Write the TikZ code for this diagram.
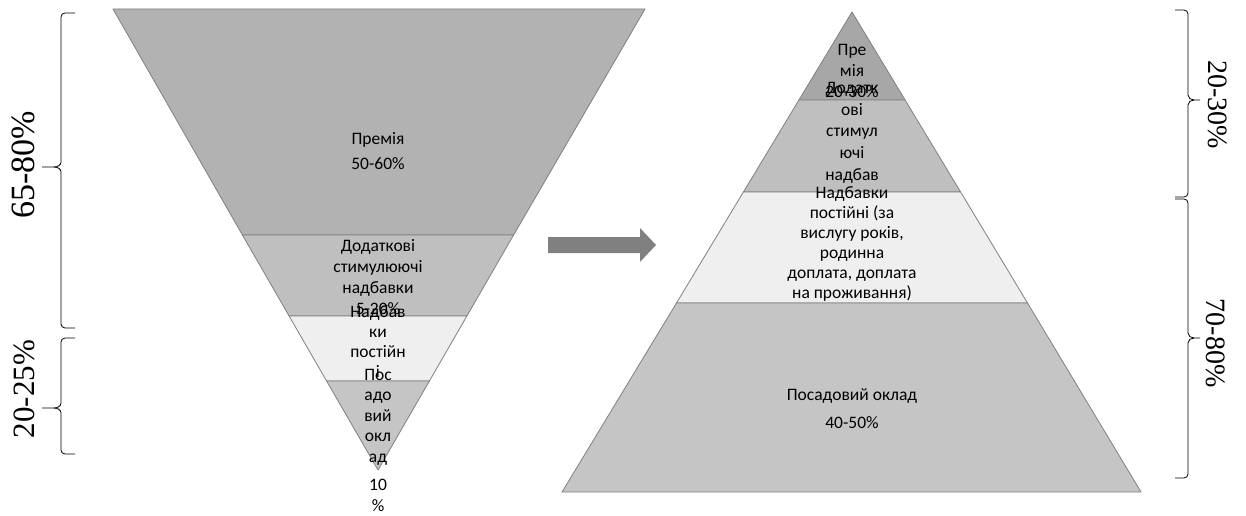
\documentclass[tikz,border=0pt]{standalone}
\usepackage{fontspec}
\setmainfont{Carlito}
\newfontfamily\timesfont{Liberation Serif}
\definecolor{edgegray}{HTML}{808080}
\definecolor{premL}{HTML}{B2B2B2}
\definecolor{premR}{HTML}{A7A7A7}
\definecolor{dodat}{HTML}{BFBFBF}
\definecolor{nadb}{HTML}{EFEFEF}
\definecolor{posad}{HTML}{C5C5C5}
\definecolor{arrowgray}{HTML}{808080}
\begin{document}
\begin{tikzpicture}[x=1pt,y=-1pt,
  band/.style={draw=edgegray,line width=0.8pt,line join=round},
  txt/.style={font=\fontsize{17.5}{21}\selectfont,align=center,inner sep=0pt,anchor=north},
  pct/.style={font=\timesfont\fontsize{28}{30}\selectfont,inner sep=0pt},
  brc/.style={line width=0.8pt}]
\useasboundingbox (0,0) rectangle (1246,516);

% left funnel
\begin{scope}
\filldraw[band,fill=premL] (113,9)--(645,9)--(513.6,235)--(242.4,235)--cycle;
\node[txt,font=\fontsize{17.5}{25}\selectfont] (lprem) at (378,132) {Премія\\50-60\%};
\filldraw[band,fill=dodat] (242.4,235)--(513.6,235)--(466.9,316)--(289.1,316)--cycle;
\node[txt] (ldod) at (378,239) {Додаткові\\стимулюючі\\надбавки\\5-20\%};
\filldraw[band,fill=nadb] (289.1,316)--(466.9,316)--(429.4,381)--(326.6,381)--cycle;
\node[txt,font=\fontsize{17.5}{20}\selectfont] (lnad) at (378,305) {Надбав\\ки\\постійн\\і};
\filldraw[band,fill=posad] (326.6,381)--(429.4,381)--(378,470)--cycle;
\node[txt,font=\fontsize{17.5}{20.5}\selectfont] (lpos) at (378,369) {Пос\\адо\\вий\\окл\\ад\\[8pt]10\\\%};
\end{scope}

% arrow
\fill[arrowgray] (548,237)--(640,237)--(640,228)--(656,245)--(640,262)--(640,253)--(548,253)--cycle;

% right pyramid
\begin{scope}
\filldraw[band,fill=premR] (852,12)--(905.1,100)--(798.9,100)--cycle;
\node[txt] (rprem) at (852,44) {Пре\\мія\\20-30\%};
\filldraw[band,fill=dodat] (798.9,100)--(905.1,100)--(960.6,192)--(743.4,192)--cycle;
\node[txt,font=\fontsize{17.5}{21.7}\selectfont] (rdod) at (852,82) {Додатк\\ові\\стимул\\ючі\\надбав};
\filldraw[band,fill=nadb] (743.4,192)--(960.6,192)--(1027.5,303)--(676.5,303)--cycle;
\node[txt,font=\fontsize{17.5}{20}\selectfont] (rnad) at (852,186) {Надбавки\\постійні (за\\вислугу років,\\родинна\\доплата, доплата\\на проживання)};
\filldraw[band,fill=posad] (676.5,303)--(1027.5,303)--(1141,492)--(562,492)--cycle;
\node[txt,font=\fontsize{17.5}{28}\selectfont] (rpos) at (852,388) {Посадовий оклад\\40-50\%};
\end{scope}

% braces left
\draw[brc] (75,13)--(65,13) to[out=180,in=90] (61,17)--(61,162) to[out=-90,in=0] (54,167)--(42,167);
\draw[brc] (54,167) to[out=0,in=90] (61,172)--(61,324) to[out=-90,in=180] (65,328)--(75,328);
\draw[brc] (75,338)--(65,338) to[out=180,in=90] (61,342)--(61,403) to[out=-90,in=0] (54,408)--(42,408);
\draw[brc] (54,408) to[out=0,in=90] (61,413)--(61,450) to[out=-90,in=180] (65,454)--(75,454);
\node[pct,font=\timesfont\fontsize{34}{36}\selectfont,rotate=90] (p6580) at (23,165) {65-80\%};
\node[pct,font=\timesfont\fontsize{31}{33}\selectfont,rotate=90] (p2025) at (24,389) {20-25\%};

% braces right
\draw[brc] (1175,10)--(1184,10) to[out=0,in=90] (1188,14)--(1188,95) to[out=-90,in=180] (1194,100)--(1200,100);
\draw[brc] (1194,100) to[out=180,in=90] (1188,105)--(1188,193) to[out=-90,in=0] (1184,197)--(1175,197);
\draw[brc] (1175,199)--(1184,199) to[out=0,in=90] (1188,203)--(1188,333) to[out=-90,in=180] (1194,338)--(1200,338);
\draw[brc] (1194,338) to[out=180,in=90] (1188,343)--(1188,474) to[out=-90,in=0] (1184,478)--(1175,478);
\node[pct,rotate=-90] (p2030) at (1218,105) {20-30\%};
\node[pct,rotate=-90] (p7080) at (1216,343) {70-80\%};
\end{tikzpicture}
\end{document}
